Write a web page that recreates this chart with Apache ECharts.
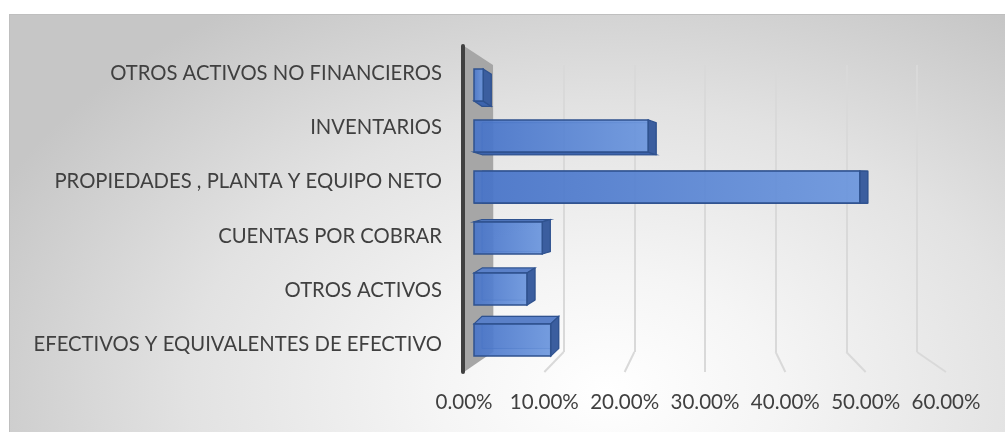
<!DOCTYPE html>
<html><head><meta charset="utf-8">
<script src="https://cdn.jsdelivr.net/npm/echarts@6/dist/echarts.min.js"></script>
<style>
html,body{margin:0;padding:0;background:#fff;overflow:hidden;}
#frame{position:absolute;left:9px;top:14px;width:996px;height:418px;border-top:1px solid #bfbfbf;border-left:1px solid #bfbfbf;box-sizing:border-box;
background:radial-gradient(ellipse 68% 110% at 60% 90%, #ffffff 0%, #f5f5f5 25%, #e2e2e2 62%, #c6c6c6 100%);}
#chart{position:absolute;left:0;top:0;width:1005px;height:432px;}
</style></head><body>
<div id="frame"></div><div id="chart"></div>
<script>
// ---- data ----
const categories = ['OTROS ACTIVOS NO FINANCIEROS', 'INVENTARIOS', 'PROPIEDADES , PLANTA Y EQUIPO NETO', 'CUENTAS POR COBRAR', 'OTROS ACTIVOS', 'EFECTIVOS Y EQUIVALENTES DE EFECTIVO'];
const values = [0.012, 0.227, 0.503, 0.089, 0.069, 0.100];
const xTicks = [0, 0.1, 0.2, 0.3, 0.4, 0.5, 0.6];
const xTickLabels = ['0.00%', '10.00%', '20.00%', '30.00%', '40.00%', '50.00%', '60.00%'];

// ---- layout / style ----
const FAMILY = 'Lato';
const TEXT = '#404040';
const ctx = document.createElement('canvas').getContext('2d');
function fit(text, target) { ctx.font = '100px ' + FAMILY; return 100 * target / ctx.measureText(text).width; }
const catFont = fit('OTROS ACTIVOS NO FINANCIEROS', 332);
const tickFont = fit('10.00%', 69);

const FRONT = {left: 464, top: 46, width: 482, height: 326};
const BARS = {left: 474, top: 59.5, width: 460.2, height: 306};
const BACK = {left: 493, top: 65, width: 424, height: 287};
const DEPTH_X = 8, HORIZON_Y = 190, DEPTH_K = 0.05;

const chart = echarts.init(document.getElementById('chart'), null, {renderer: 'canvas'});

function renderBar(params, api) {
  const v = api.value(0), c = api.value(1);
  const p0 = api.coord([0, c]), p1 = api.coord([v, c]);
  const h = api.size([0, 1])[1] * 0.63;
  const x0 = p0[0], x1 = p1[0], yt = p0[1] - h / 2, yb = p0[1] + h / 2;
  const dx = DEPTH_X, dy = (HORIZON_Y - p0[1]) * DEPTH_K;
  const edge = '#2f528f';
  const kids = [];
  kids.push({type: 'rect', shape: {x: x0 + dx, y: yt + dy, width: x1 - x0, height: h},
    style: {fill: 'rgba(60,100,180,0.35)', stroke: edge, lineWidth: 1, opacity: 0.9}});
  if (dy < 0) {
    kids.push({type: 'polygon', shape: {points: [[x0, yt], [x0 + dx, yt + dy], [x1 + dx, yt + dy], [x1, yt]]},
      style: {fill: '#5a80c8', stroke: edge, lineWidth: 1.2}});
  } else {
    kids.push({type: 'polygon', shape: {points: [[x0, yb], [x0 + dx, yb + dy], [x1 + dx, yb + dy], [x1, yb]]},
      style: {fill: '#3d64ad', stroke: edge, lineWidth: 1.2}});
  }
  kids.push({type: 'polygon', shape: {points: [[x1, yt], [x1 + dx, yt + dy], [x1 + dx, yb + dy], [x1, yb]]},
    style: {fill: '#3b5e9f', stroke: edge, lineWidth: 1.2}});
  kids.push({type: 'rect', shape: {x: x0, y: yt, width: x1 - x0, height: h},
    style: {fill: new echarts.graphic.LinearGradient(0, 0, 1, 0, [{offset: 0, color: 'rgba(72,116,200,0.92)'}, {offset: 1, color: 'rgba(110,152,222,0.92)'}]),
      stroke: edge, lineWidth: 1.5}});
  return {type: 'group', children: kids};
}

chart.setOption({
  animation: false,
  grid: [
    Object.assign({containLabel: false}, FRONT),
    Object.assign({containLabel: false}, BARS),
    Object.assign({containLabel: false}, BACK)
  ],
  xAxis: [
    {gridIndex: 0, type: 'value', min: 0, max: 0.6, interval: 0.1,
      axisLine: {show: false}, axisTick: {show: false}, splitLine: {show: false},
      axisLabel: {margin: 20, fontFamily: FAMILY, fontSize: tickFont, color: TEXT,
        formatter: v => xTickLabels[xTicks.findIndex(t => Math.abs(t - v) < 1e-9)]}},
    {gridIndex: 1, type: 'value', min: 0, max: 0.6, show: false},
    {gridIndex: 2, type: 'value', min: 0, max: 0.6, interval: 0.1,
      axisLine: {show: false}, axisTick: {show: false}, axisLabel: {show: false},
      splitLine: {show: true, lineStyle: {color: '#d9d9d9', width: 2}}}
  ],
  yAxis: [
    {gridIndex: 0, type: 'category', inverse: true, data: categories,
      axisLine: {show: false}, axisTick: {show: false},
      axisLabel: {margin: 22, fontFamily: FAMILY, fontSize: catFont, color: TEXT}},
    {gridIndex: 1, type: 'category', inverse: true, data: categories, show: false},
    {gridIndex: 2, type: 'category', data: categories, show: false}
  ],
  series: [{
    type: 'custom', xAxisIndex: 1, yAxisIndex: 1, z: 5,
    renderItem: renderBar,
    data: values.map((v, i) => [v, i])
  }]
});

// wall, axis line and floor lines built from the axes' own scales
const fx = v => chart.convertToPixel({xAxisIndex: 0}, v);
const bx = v => chart.convertToPixel({xAxisIndex: 2}, v);
const fTop = FRONT.top, fBot = FRONT.top + FRONT.height;
const bTop = BACK.top, bBot = BACK.top + BACK.height;
const elements = [];
xTicks.slice(1).forEach(t => {
  elements.push({type: 'line', z: 1, shape: {x1: bx(t), y1: bBot, x2: fx(t), y2: fBot},
    style: {stroke: '#d9d9d9', lineWidth: 2}});
});
elements.push({type: 'polygon', z: 2, shape: {points: [[fx(0), fTop], [bx(0), bTop], [bx(0), bBot], [fx(0), fBot]]},
  style: {fill: '#a6a6a6'}});
elements.push({type: 'line', z: 3, shape: {x1: fx(0) - 1, y1: fTop, x2: fx(0) - 1, y2: fBot},
  style: {stroke: '#404040', lineWidth: 4, lineCap: 'round'}});
chart.setOption({graphic: {elements: elements}});
</script>
</body></html>
